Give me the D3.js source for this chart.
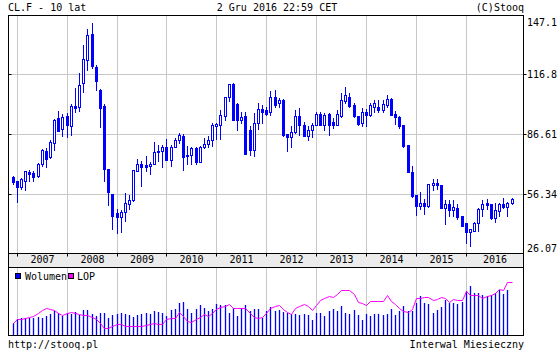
<!DOCTYPE html>
<html>
<head>
<meta charset="utf-8">
<script src="https://cdnjs.cloudflare.com/ajax/libs/d3/7.8.5/d3.min.js"></script>
<style>
body { margin: 0; background: #fff; }
svg text { font-family: "DejaVu Sans Mono", monospace; font-size: 10px; fill: #000; }
</style>
</head>
<body>
<svg width="560" height="350"></svg>
<script>
'use strict'; //strict mode

// monthly candles, Dec 2006 .. Dec 2016
var months = d3.timeMonth.range(new Date(2006, 11, 1), new Date(2017, 0, 1));

var open = [64.7,62.7,59.6,62.7,67.4,67.0,65.2,71.4,78.1,74.8,82.0,94.8,89.1,
  95.6,90.6,100.8,100.2,112.3,123.9,137.2,120.5,108.9,101.0,68.9,56.3,
  46.4,44.7,47.2,51.2,53.2,67.7,71.4,71.1,70.2,71.6,78.1,77.8,
  80.0,73.3,80.0,83.4,85.7,75.3,75.8,79.5,72.2,80.0,81.7,83.3,
  90.4,91.2,95.8,105.2,111.9,101.8,93.8,95.8,88.7,78.6,92.1,99.2,
  98.8,97.5,105.2,102.2,103.9,86.7,85.0,87.5,95.8,91.2,85.7,88.4,
  90.9,96.8,90.9,96.8,92.9,91.2,95.5,103.5,105.2,101.3,95.8,92.1,
  97.6,96.3,100.2,100.2,98.5,101.3,104.2,96.8,95.1,91.2,81.2,67.2,
  55.9,50.0,51.7,50.0,61.0,61.8,61.0,49.2,50.9,48.0,49.2,45.0,
  41.3,36.9,37.4,41.3,48.7,51.4,50.9,44.2,47.5,50.9,49.7,51.4];
var high = [65.2,63.0,64.3,68.0,68.4,68.0,71.7,79.0,79.5,83.7,94.3,98.3,96.6,
  97.0,101.9,110.1,117.3,131.6,139.7,142.7,121.5,109.4,101.7,68.9,56.3,
  48.7,48.0,56.8,55.9,68.2,73.9,72.8,75.6,72.3,82.3,80.8,81.2,
  84.2,81.2,84.5,87.1,86.7,80.6,80.0,80.0,80.7,84.5,85.7,92.1,
  92.4,98.8,105.2,111.8,112.6,102.5,97.5,97.5,90.4,97.1,102.2,101.3,
  100.5,108.6,108.9,104.7,104.2,86.7,90.4,98.8,99.7,92.9,90.4,92.1,
  97.5,97.5,97.1,97.1,94.6,98.8,107.2,110.6,107.6,102.2,95.8,99.7,
  99.2,102.5,103.9,103.9,103.9,106.4,104.7,98.0,95.5,91.2,81.2,70.6,
  55.9,57.1,53.7,61.3,63.8,63.8,61.0,53.4,53.1,53.4,50.9,45.3,
  41.6,38.6,42.0,49.2,53.4,53.7,50.9,51.7,51.7,54.3,52.1,54.3];
var low = [61.5,52.1,58.5,58.1,62.7,62.7,65.0,70.2,69.7,74.4,78.6,87.9,85.4,
  84.9,85.9,97.5,98.3,108.1,119.2,119.8,108.9,89.9,62.7,50.6,38.6,
  36.4,36.9,42.5,48.7,52.6,67.7,60.1,67.7,66.4,71.6,72.8,69.7,
  73.3,70.2,80.0,82.0,68.5,71.6,71.6,71.6,72.2,79.5,80.0,80.7,
  84.0,84.0,93.8,103.5,93.8,88.7,92.1,76.5,76.1,75.3,89.1,92.1,
  96.3,96.3,100.2,100.2,85.7,77.8,80.0,87.0,86.2,85.7,83.7,85.0,
  90.9,90.9,88.7,86.2,89.6,91.2,95.1,102.5,100.5,95.1,90.9,90.4,
  90.4,95.8,97.5,97.5,97.5,100.2,96.3,91.8,89.6,80.0,67.2,54.8,
  45.8,48.7,46.3,49.7,58.1,58.5,49.2,40.8,45.0,45.3,43.3,40.0,
  31.5,29.8,37.4,37.4,45.3,48.4,43.6,42.0,45.3,49.2,45.0,51.1];
var close = [62.2,59.6,63.7,67.7,66.4,65.0,71.4,78.6,74.1,82.3,93.8,87.9,95.3,
  90.9,101.0,100.0,111.4,124.6,136.7,121.0,113.3,100.0,68.9,57.1,45.0,
  44.7,47.2,51.4,53.2,68.2,71.4,69.7,69.9,71.6,77.6,77.5,80.2,
  73.3,80.2,83.7,86.2,74.8,76.1,79.5,72.2,80.0,81.7,83.3,91.2,
  91.8,96.3,105.2,111.8,93.8,93.8,95.1,76.5,78.6,92.1,99.2,97.5,
  96.8,105.2,101.3,103.9,86.2,85.0,87.5,95.8,91.2,85.7,88.4,91.2,
  96.8,90.9,96.3,91.2,90.9,96.8,103.9,106.4,101.0,95.5,91.8,97.6,
  96.3,101.3,102.2,98.5,101.7,104.2,96.3,95.1,90.7,80.7,67.2,55.4,
  50.0,51.7,50.0,61.3,61.8,60.8,49.2,50.9,48.0,49.7,44.7,40.0,
  36.9,38.3,41.3,48.7,51.2,50.6,44.2,47.9,50.9,49.7,51.4,53.7];

// volume and open interest (LOP), relative units
var volume = [123,157,173,173,173,173,180,173,190,207,240,217,190,
  217,207,230,197,247,247,207,190,223,223,173,197,
  207,223,207,197,183,200,213,217,207,240,230,217,
  190,247,257,323,330,263,217,257,297,273,240,263,
  307,297,297,217,273,190,273,297,240,257,257,173,
  240,283,240,250,230,223,207,213,200,213,197,150,
  223,217,190,240,257,240,290,217,207,250,200,150,
  207,190,207,207,200,207,257,197,240,290,240,240,
  317,390,317,307,217,250,280,350,323,317,313,330,
  440,490,423,417,397,390,397,417,450,410,450,0];
var lop = [123,157,163,173,180,190,217,247,273,257,247,223,197,
  217,233,217,207,197,197,183,163,123,73,73,90,
  107,107,90,90,90,90,90,100,107,123,113,107,
  157,167,173,230,190,140,130,157,183,207,190,217,
  257,280,290,307,273,273,273,273,217,183,173,183,
  217,273,290,297,257,230,207,267,290,307,290,250,
  297,350,373,390,383,407,447,447,447,407,330,323,
  300,340,340,340,340,397,340,307,273,240,233,263,
  367,367,383,383,347,357,380,373,333,357,347,347,
  440,397,397,397,367,390,397,417,457,450,530,530];

var priceTicks = [26.07, 56.34, 86.61, 116.8, 147.1];
var yearLabels = ['2007','2008','2009','2010','2011','2012','2013','2014','2015','2016'];

var svg = d3.select('svg');
var L = 8.5, R = 523.5, T = 15.5, B = 253.5, VT = 267.5, VB = 335.5;
var blue = '#0000ff';

var x = d3.scalePoint().domain(months).range([13.1, 512.0]);
var y = d3.scaleLinear().domain([priceTicks[0], priceTicks[4]]).range([253.5, 14.5]);
var yVol = d3.scaleLinear().domain([0, d3.max(volume)]).range([335, 286]);
var yLop = d3.scaleLinear().domain([0, d3.max(lop)]).range([335, 282]);

function cx(m){ return Math.floor(x(m)) + 0.5; }
function py(v){ return Math.round(y(v)); }

// january months carry the year gridlines
var januaries = months.filter(function(m){ return m.getMonth() === 0; });

// gray band under the price panel
svg.append('rect').attr('x', L).attr('y', B).attr('width', R - L).attr('height', VT - B).attr('fill', '#ececec');

// grid
var grid = svg.append('g').attr('stroke', '#c8c8c8').attr('stroke-width', 1);
januaries.forEach(function(m){
  grid.append('line').attr('x1', cx(m)).attr('x2', cx(m)).attr('y1', T).attr('y2', B);
  grid.append('line').attr('x1', cx(m)).attr('x2', cx(m)).attr('y1', VT).attr('y2', VB);
});
priceTicks.slice(1, 4).forEach(function(t){
  grid.append('line').attr('x1', L).attr('x2', R).attr('y1', py(t) + 0.5).attr('y2', py(t) + 0.5);
});

// candles
var candles = svg.append('g');
months.forEach(function(m, i){
  var c = cx(m);
  var up = close[i] >= open[i];
  var top = py(Math.max(open[i], close[i]));
  var bot = py(Math.min(open[i], close[i]));
  candles.append('line').attr('x1', c).attr('x2', c)
    .attr('y1', py(high[i])).attr('y2', py(low[i]) + 1)
    .attr('stroke', blue);
  if(up){
    candles.append('rect').attr('x', c - 1).attr('y', top + 0.5)
      .attr('width', 2).attr('height', Math.max(bot - top, 1))
      .attr('fill', '#fff').attr('stroke', blue);
  }
  else {
    candles.append('rect').attr('x', c - 1.5).attr('y', top)
      .attr('width', 3).attr('height', Math.max(bot - top + 1, 2))
      .attr('fill', blue);
  }
});

// volume bars
svg.append('g').selectAll('line').data(months).join('line')
  .attr('x1', cx).attr('x2', cx)
  .attr('y1', function(m, i){ return Math.round(yVol(volume[i])); })
  .attr('y2', 335)
  .attr('stroke', blue)
  .attr('stroke-width', 1.3);

// open interest line
var lopLine = d3.line()
  .x(function(m){ return cx(m); })
  .y(function(m, i){ return Math.round(yLop(lop[i])) + 0.5; });
svg.append('path').datum(months).attr('d', lopLine)
  .attr('fill', 'none').attr('stroke', '#ff00ff').attr('stroke-width', 1);

// frame
var frame = svg.append('g').attr('stroke', '#000').attr('stroke-width', 1);
[T, B, VT, VB].forEach(function(h){
  frame.append('line').attr('x1', L - 0.5).attr('x2', R + 0.5).attr('y1', h).attr('y2', h);
});
[L, R].forEach(function(v){
  frame.append('line').attr('x1', v).attr('x2', v).attr('y1', T).attr('y2', VB);
});
januaries.forEach(function(m){
  frame.append('line').attr('x1', cx(m)).attr('x2', cx(m)).attr('y1', B).attr('y2', B + 3);
});
priceTicks.slice(1, 4).forEach(function(t){
  frame.append('line').attr('x1', L).attr('x2', L + 3).attr('y1', py(t) + 0.5).attr('y2', py(t) + 0.5);
  frame.append('line').attr('x1', R).attr('x2', R + 3).attr('y1', py(t) + 0.5).attr('y2', py(t) + 0.5);
});

// price labels
svg.append('g').selectAll('text').data(priceTicks).join('text')
  .attr('x', 527)
  .attr('y', function(t){ return Math.max(26, Math.min(252, py(t) + 4)); })
  .text(function(t){ return t; });

// year labels, centred between gridlines
svg.append('g').selectAll('text').data(yearLabels).join('text')
  .attr('x', function(d, k){
    var a = cx(januaries[k]);
    var b = k + 1 < januaries.length ? cx(januaries[k + 1]) : R;
    return (a + b) / 2;
  })
  .attr('y', 263)
  .attr('text-anchor', 'middle')
  .text(function(d){ return d; });

// legend
svg.append('rect').attr('x', 15.5).attr('y', 273.5).attr('width', 5).attr('height', 5).attr('fill', blue).attr('stroke', '#000');
svg.append('text').attr('x', 25).attr('y', 280).text('Wolumen');
svg.append('rect').attr('x', 68.5).attr('y', 273.5).attr('width', 5).attr('height', 5).attr('fill', '#ff00ff').attr('stroke', '#000');
svg.append('text').attr('x', 77).attr('y', 280).text('LOP');

// header and footer
svg.append('text').attr('x', 8).attr('y', 11).text('CL.F - 10 lat');
svg.append('text').attr('x', 277).attr('y', 11).attr('text-anchor', 'middle').text('2 Gru 2016 22:59 CET');
svg.append('text').attr('x', 524).attr('y', 11).attr('text-anchor', 'end').text('(C)Stooq');
svg.append('text').attr('x', 8).attr('y', 348).text('http://stooq.pl');
svg.append('text').attr('x', 524).attr('y', 348).attr('text-anchor', 'end').text('Interwal Miesieczny');
</script>
</body>
</html>
